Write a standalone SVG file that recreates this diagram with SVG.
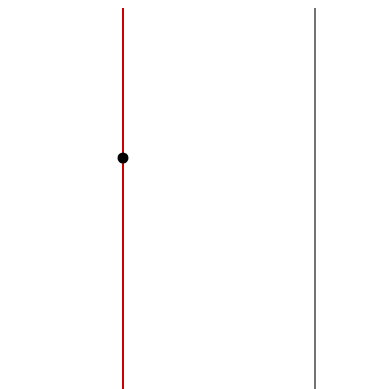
<svg xmlns="http://www.w3.org/2000/svg" width="386" height="389" viewBox="0 0 386 389">
<style>
.red{stroke:#cc0000;stroke-width:2;fill:none}
.gray{stroke:#444444;stroke-width:1.5;fill:none}
</style>
<rect width="386" height="389" fill="#ffffff"/>
<g id="connectors">
<line class="red" x1="123" y1="8" x2="123" y2="389"/>
<line class="gray" x1="315" y1="8" x2="315" y2="389"/>
</g>
<g id="point">
<circle cx="123" cy="158" r="5.5" fill="#000000"/>
</g>
</svg>
